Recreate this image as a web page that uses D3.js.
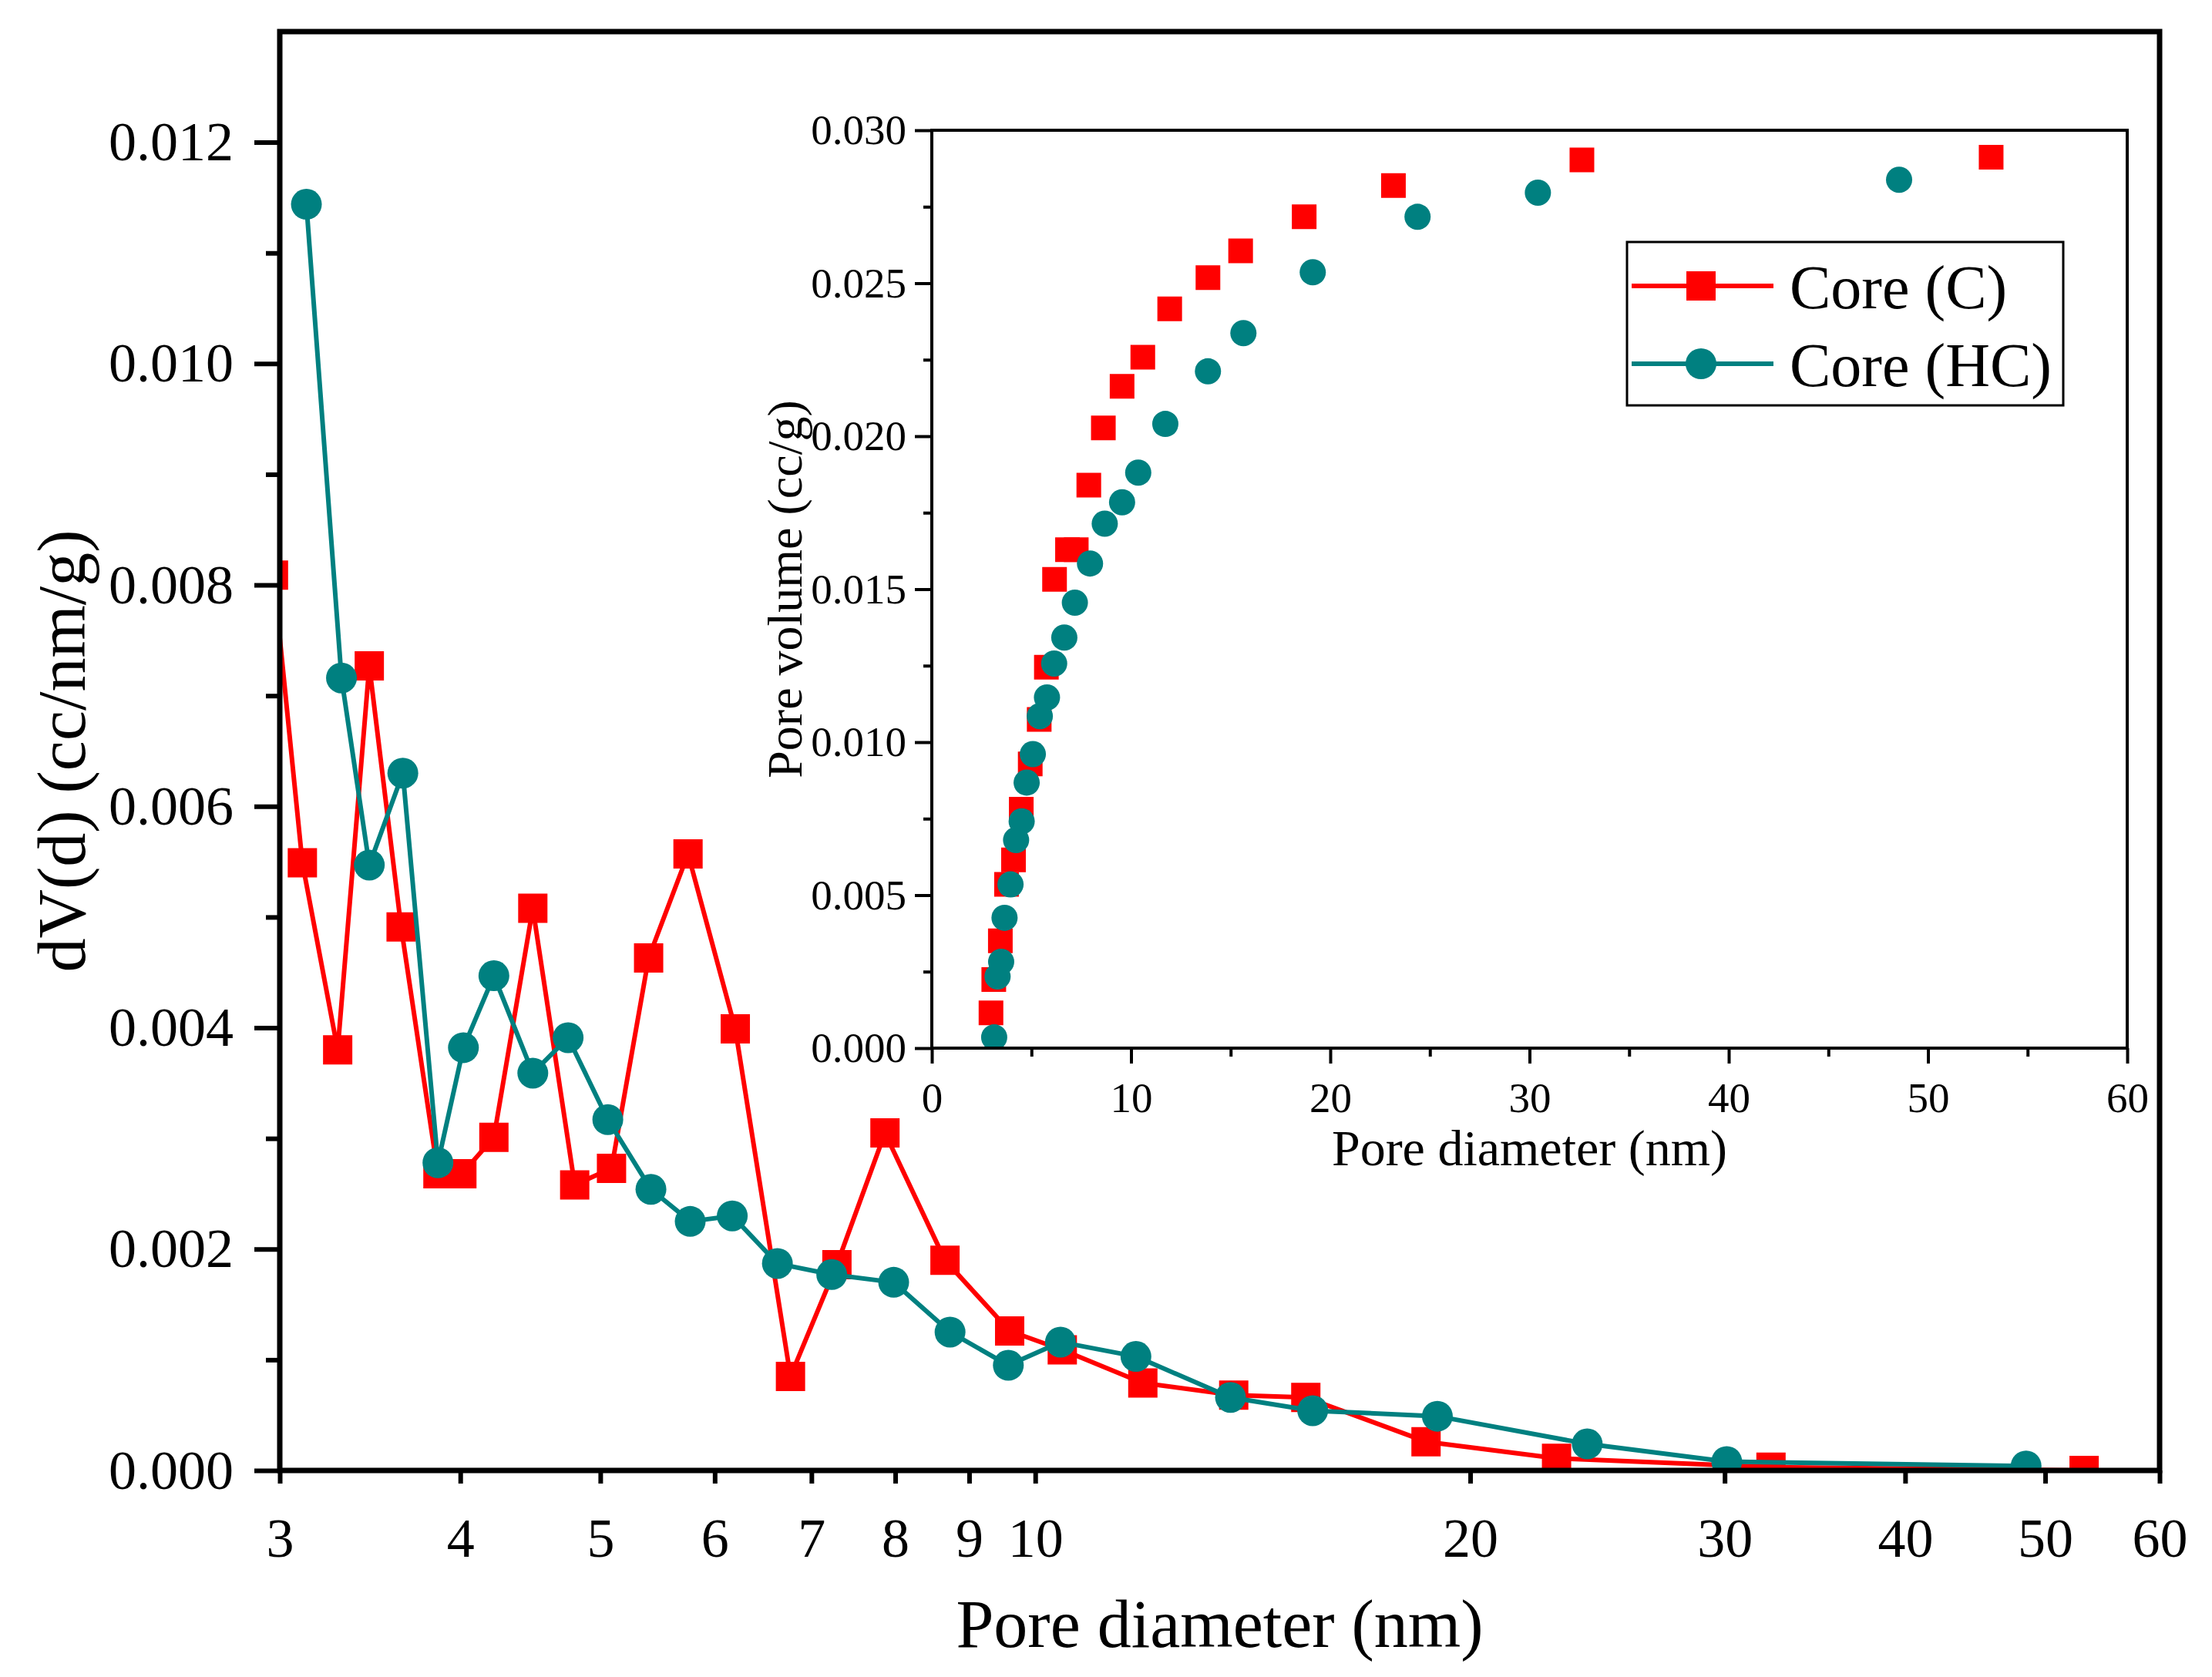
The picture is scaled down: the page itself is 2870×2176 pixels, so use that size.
<!DOCTYPE html>
<html>
<head>
<meta charset="utf-8">
<script src="https://cdn.jsdelivr.net/npm/d3@7"></script>
<style>
  body { margin: 0; background: #fff; }
  text { font-family: "Liberation Serif", "Times New Roman", serif; fill: #000; }
</style>
</head>
<body>
<div id="chart"></div>
<script>
// main plot data: dV(d) vs pore diameter
var coreC_x  = [2.97, 3.11, 3.29, 3.46, 3.64, 3.86, 4.01, 4.22, 4.49, 4.80, 5.09, 5.40, 5.75, 6.20, 6.77, 7.29, 7.87, 8.66, 9.60, 10.44, 11.87, 13.72, 15.39, 18.64, 22.95, 32.3, 53.2];
var coreC_dv = [0.00809, 0.00549, 0.00380, 0.00727, 0.00491, 0.00268, 0.00268, 0.00301, 0.00508, 0.00258, 0.00273, 0.00463, 0.00557, 0.00399, 0.00085, 0.00186, 0.00305, 0.00190, 0.00126, 0.00109, 0.00079, 0.00068, 0.00066, 0.00026, 0.00011, 0.00003, 0.00000];
var coreHC_x  = [3.13, 3.31, 3.46, 3.65, 3.86, 4.02, 4.22, 4.49, 4.75, 5.06, 5.42, 5.77, 6.17, 6.63, 7.23, 7.98, 8.73, 9.58, 10.41, 11.74, 13.65, 15.56, 18.98, 24.1, 30.1, 48.5];
var coreHC_dv = [0.01144, 0.00716, 0.00547, 0.00630, 0.00278, 0.00382, 0.00447, 0.00359, 0.00391, 0.00317, 0.00254, 0.00225, 0.00230, 0.00187, 0.00177, 0.00170, 0.00125, 0.00095, 0.00116, 0.00103, 0.00066, 0.00054, 0.00049, 0.00024, 0.00008, 0.00004];

// inset data: cumulative pore volume
var insetC_x  = [2.97, 3.11, 3.44, 3.75, 4.10, 4.49, 4.94, 5.39, 5.75, 6.16, 6.81, 7.25, 7.88, 8.61, 9.55, 10.59, 11.94, 13.86, 15.50, 18.69, 23.17, 32.63, 53.17];
var insetC_v  = [0.00115, 0.00224, 0.00351, 0.00535, 0.00615, 0.00781, 0.00929, 0.01074, 0.01245, 0.01532, 0.01629, 0.01629, 0.01840, 0.02027, 0.02163, 0.02258, 0.02416, 0.02518, 0.02606, 0.02717, 0.02819, 0.02903, 0.02912];
var insetHC_x = [3.13, 3.30, 3.48, 3.65, 3.95, 4.23, 4.51, 4.76, 5.07, 5.42, 5.78, 6.14, 6.65, 7.18, 7.94, 8.68, 9.55, 10.36, 11.72, 13.86, 15.64, 19.12, 24.38, 30.42, 48.55];
var insetHC_v = [0.00035, 0.00234, 0.00282, 0.00426, 0.00535, 0.00680, 0.00741, 0.00868, 0.00961, 0.01085, 0.01146, 0.01257, 0.01342, 0.01456, 0.01584, 0.01714, 0.01784, 0.01881, 0.02040, 0.02212, 0.02337, 0.02536, 0.02717, 0.02796, 0.02838];

// ticks
var mainXTicks = [3, 4, 5, 6, 7, 8, 9, 10, 20, 30, 40, 50, 60];
var mainYTicks = [0, 0.002, 0.004, 0.006, 0.008, 0.010, 0.012];
var mainYMinor = [0.001, 0.003, 0.005, 0.007, 0.009, 0.011];
var insetXTicks = [0, 10, 20, 30, 40, 50, 60];
var insetXMinor = [5, 15, 25, 35, 45, 55];
var insetYTicks = [0, 0.005, 0.010, 0.015, 0.020, 0.025, 0.030];
var insetYMinor = [0.0025, 0.0075, 0.0125, 0.0175, 0.0225, 0.0275];

var seriesNames = ["Core (C)", "Core (HC)"];
var seriesColors = ["#ff0000", "#008080"];

var W = 2870, H = 2176;
var margin = { top: 41, right: 68, bottom: 268, left: 363 };
var width = W - margin.left - margin.right;
var height = H - margin.top - margin.bottom;

var svg = d3.select("#chart")
  .append("svg")
    .attr("width", W)
    .attr("height", H)
    .style("background", "#fff");

var g = svg.append("g")
    .attr("transform", `translate(${margin.left},${margin.top})`);

// scales
var x = d3.scaleLog().domain([3, 60]).range([0, width]);
var y = d3.scaleLinear().domain([0, 0.013]).range([height, 0]);

g.append("clipPath").attr("id", "mainclip")
  .append("rect").attr("width", width).attr("height", height);

// axes
var xAxis = g.append("g")
  .attr("transform", "translate(0," + height + ")")
  .call(d3.axisBottom(x).tickValues(mainXTicks).tickFormat(d3.format("d")).tickSize(17).tickPadding(44));

var yAxis = g.append("g")
  .call(d3.axisLeft(y).tickValues(mainYTicks).tickFormat(d3.format(".3f")).tickSize(33).tickPadding(27));

var yMinor = g.append("g")
  .call(d3.axisLeft(y).tickValues(mainYMinor).tickFormat("").tickSize(18));

[xAxis, yAxis, yMinor].forEach(function(a) {
  a.select(".domain").remove();
  a.selectAll("line").attr("stroke", "#000").attr("stroke-width", 6);
  a.selectAll("text").style("font-size", "72px").style("font-family", "Liberation Serif");
});

// data series
var line = d3.line().x(d => x(d[0])).y(d => y(d[1]));
var sq = d3.symbol().type(d3.symbolSquare).size(38 * 38);
var circ = d3.symbol().type(d3.symbolCircle).size(Math.PI * 20 * 20);

var mainSeries = [
  d3.zip(coreC_x, coreC_dv),
  d3.zip(coreHC_x, coreHC_dv)
];
var plot = g.append("g").attr("clip-path", "url(#mainclip)");
mainSeries.forEach(function(data, i) {
  plot.append("path")
    .datum(data)
    .attr("fill", "none")
    .attr("stroke", seriesColors[i])
    .attr("stroke-width", 6)
    .attr("stroke-linejoin", "round")
    .attr("d", line);
  plot.selectAll(".m" + i)
    .data(data)
    .enter().append("path")
      .attr("transform", d => `translate(${x(d[0])},${y(d[1])})`)
      .attr("d", i === 0 ? sq : circ)
      .attr("fill", seriesColors[i]);
});

// frame
g.append("rect")
  .attr("width", width).attr("height", height)
  .attr("fill", "none").attr("stroke", "#000").attr("stroke-width", 7);

// axis labels
svg.append("text")
  .attr("x", margin.left + width / 2)
  .attr("y", 2137)
  .style("text-anchor", "middle")
  .style("font-size", "88px")
  .text("Pore diameter (nm)");

svg.append("text")
  .attr("transform", "rotate(-90)")
  .attr("y", 110)
  .attr("x", -(margin.top + height / 2))
  .style("text-anchor", "middle")
  .style("font-size", "88px")
  .text("dV(d) (cc/nm/g)");

// ---- inset ----
var ins = { left: 1209, top: 169, width: 1551, height: 1191 };
var gi = svg.append("g").attr("transform", `translate(${ins.left},${ins.top})`);

var xi = d3.scaleLinear().domain([0, 60]).range([0, ins.width]);
var yi = d3.scaleLinear().domain([0, 0.030]).range([ins.height, 0]);

gi.append("clipPath").attr("id", "insclip")
  .append("rect").attr("width", ins.width).attr("height", ins.height);

var ixAxis = gi.append("g").attr("transform", "translate(0," + ins.height + ")")
  .call(d3.axisBottom(xi).tickValues(insetXTicks).tickFormat(d3.format("d")).tickSize(20).tickPadding(24));
var ixMinor = gi.append("g").attr("transform", "translate(0," + ins.height + ")")
  .call(d3.axisBottom(xi).tickValues(insetXMinor).tickFormat("").tickSize(11));
var iyAxis = gi.append("g")
  .call(d3.axisLeft(yi).tickValues(insetYTicks).tickFormat(d3.format(".3f")).tickSize(22).tickPadding(11));
var iyMinor = gi.append("g")
  .call(d3.axisLeft(yi).tickValues(insetYMinor).tickFormat("").tickSize(11));

[ixAxis, ixMinor, iyAxis, iyMinor].forEach(function(a) {
  a.select(".domain").remove();
  a.selectAll("line").attr("stroke", "#000").attr("stroke-width", 4);
  a.selectAll("text").style("font-size", "55px").style("font-family", "Liberation Serif");
});

var insetSeries = [
  d3.zip(insetC_x, insetC_v),
  d3.zip(insetHC_x, insetHC_v)
];
var sqi = d3.symbol().type(d3.symbolSquare).size(32 * 32);
var circi = d3.symbol().type(d3.symbolCircle).size(Math.PI * 17 * 17);
var iplot = gi.append("g").attr("clip-path", "url(#insclip)");
insetSeries.forEach(function(data, i) {
  iplot.selectAll(".n" + i)
    .data(data)
    .enter().append("path")
      .attr("transform", d => `translate(${xi(d[0])},${yi(d[1])})`)
      .attr("d", i === 0 ? sqi : circi)
      .attr("fill", seriesColors[i]);
});

gi.append("rect")
  .attr("width", ins.width).attr("height", ins.height)
  .attr("fill", "none").attr("stroke", "#000").attr("stroke-width", 4);

gi.append("text")
  .attr("x", ins.width / 2)
  .attr("y", 1512 - ins.top)
  .style("text-anchor", "middle")
  .style("font-size", "66px")
  .text("Pore diameter (nm)");

gi.append("text")
  .attr("transform", "rotate(-90)")
  .attr("y", 1040 - ins.left)
  .attr("x", -(ins.height / 2))
  .style("text-anchor", "middle")
  .style("font-size", "64px")
  .text("Pore volume (cc/g)");

// legend
var leg = svg.append("g").attr("transform", "translate(2111,314)");
leg.append("rect")
  .attr("width", 566).attr("height", 212)
  .attr("fill", "#fff").attr("stroke", "#000").attr("stroke-width", 3);

seriesNames.forEach(function(name, i) {
  var ly = 57 + i * 101;
  leg.append("line")
    .attr("x1", 6).attr("x2", 190)
    .attr("y1", ly).attr("y2", ly)
    .attr("stroke", seriesColors[i]).attr("stroke-width", 6);
  leg.append("path")
    .attr("transform", `translate(96,${ly})`)
    .attr("d", i === 0 ? sq : circ)
    .attr("fill", seriesColors[i]);
  leg.append("text")
    .attr("x", 211)
    .attr("y", ly + 29)
    .style("font-size", "80px")
    .text(name);
});
</script>
</body>
</html>
